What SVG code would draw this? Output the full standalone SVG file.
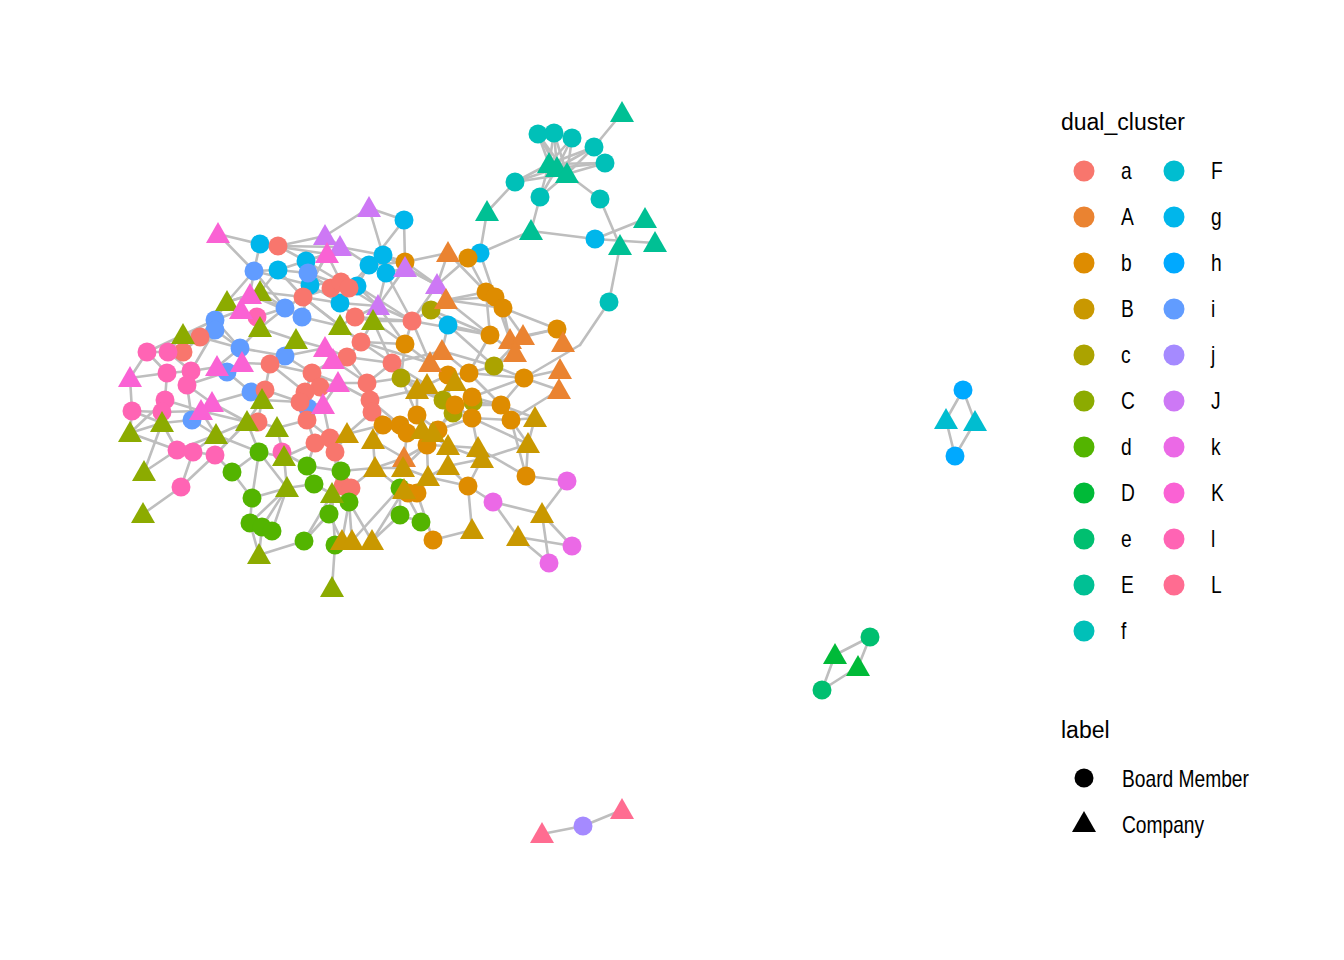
<svg xmlns="http://www.w3.org/2000/svg" xmlns:xlink="http://www.w3.org/1999/xlink" width="1344" height="960" viewBox="0 0 1344 960">
<style>
.e line{stroke:#BEBEBE;stroke-width:2.6;stroke-linecap:round}
.a{fill:#F8766D}.A{fill:#EA8331}.b{fill:#DE8C00}.B{fill:#C99800}.c{fill:#ABA300}.C{fill:#8CAB00}
.d{fill:#53B400}.D{fill:#00BA38}.e1{fill:#00BF70}.E{fill:#00C094}.f{fill:#00C0B8}.F{fill:#00BDD0}
.g{fill:#00B6EB}.h{fill:#00A9FF}.i{fill:#619CFF}.j{fill:#A58AFF}.J{fill:#CD78F5}.k{fill:#EB69E6}
.K{fill:#FA62D4}.l{fill:#FF64B4}.L{fill:#FF6C91}
text{font-family:"Liberation Sans",Arial,sans-serif;fill:#000}
.lt{font-size:23px}.ll{font-size:24px}
</style>
<defs>
<path id="t" d="M0,-12 L12,9 L-12,9Z"/>
</defs>
<rect width="1344" height="960" fill="#fff"/>
<g class="e" id="connectors">
<line x1="549" y1="164" x2="538" y2="134"/><line x1="549" y1="164" x2="554" y2="133"/><line x1="549" y1="164" x2="572" y2="138"/><line x1="549" y1="164" x2="594" y2="147"/><line x1="549" y1="164" x2="605" y2="163"/><line x1="549" y1="164" x2="515" y2="182"/><line x1="549" y1="164" x2="540" y2="197"/>
<line x1="557" y1="168" x2="538" y2="134"/><line x1="557" y1="168" x2="554" y2="133"/><line x1="557" y1="168" x2="572" y2="138"/><line x1="557" y1="168" x2="594" y2="147"/><line x1="557" y1="168" x2="605" y2="163"/><line x1="557" y1="168" x2="515" y2="182"/><line x1="557" y1="168" x2="540" y2="197"/>
<line x1="567" y1="174" x2="538" y2="134"/><line x1="567" y1="174" x2="554" y2="133"/><line x1="567" y1="174" x2="572" y2="138"/><line x1="567" y1="174" x2="594" y2="147"/><line x1="567" y1="174" x2="605" y2="163"/><line x1="567" y1="174" x2="515" y2="182"/><line x1="567" y1="174" x2="540" y2="197"/><line x1="567" y1="174" x2="600" y2="199"/>
<line x1="622" y1="113" x2="594" y2="147"/><line x1="515" y1="182" x2="487" y2="212"/><line x1="540" y1="197" x2="531" y2="231"/><line x1="600" y1="199" x2="620" y2="246"/>
<line x1="487" y1="212" x2="480" y2="253"/><line x1="480" y1="253" x2="531" y2="231"/><line x1="531" y1="231" x2="595" y2="239"/><line x1="595" y1="239" x2="645" y2="219"/><line x1="595" y1="239" x2="655" y2="243"/><line x1="620" y1="246" x2="609" y2="302"/><line x1="609" y1="302" x2="580" y2="345"/><line x1="580" y1="345" x2="524" y2="378"/>
<line x1="218" y1="234" x2="254" y2="271"/><line x1="260" y1="244" x2="254" y2="271"/><line x1="260" y1="244" x2="278" y2="246"/><line x1="278" y1="246" x2="325" y2="236"/><line x1="278" y1="246" x2="306" y2="261"/><line x1="325" y1="236" x2="340" y2="247"/><line x1="325" y1="236" x2="369" y2="265"/><line x1="340" y1="247" x2="383" y2="255"/><line x1="327" y1="254" x2="310" y2="285"/><line x1="327" y1="254" x2="306" y2="261"/><line x1="327" y1="254" x2="341" y2="282"/><line x1="327" y1="254" x2="278" y2="270"/><line x1="327" y1="254" x2="303" y2="297"/>
<line x1="369" y1="208" x2="404" y2="220"/><line x1="369" y1="208" x2="383" y2="255"/><line x1="383" y1="255" x2="405" y2="262"/><line x1="386" y1="273" x2="405" y2="268"/><line x1="369" y1="265" x2="357" y2="286"/><line x1="369" y1="265" x2="349" y2="288"/><line x1="254" y1="271" x2="278" y2="270"/><line x1="254" y1="271" x2="250" y2="295"/><line x1="254" y1="271" x2="227" y2="302"/><line x1="278" y1="270" x2="303" y2="297"/><line x1="278" y1="270" x2="260" y2="292"/><line x1="306" y1="261" x2="310" y2="285"/><line x1="308" y1="273" x2="331" y2="288"/><line x1="310" y1="285" x2="340" y2="303"/><line x1="341" y1="282" x2="357" y2="286"/><line x1="331" y1="288" x2="340" y2="303"/><line x1="349" y1="288" x2="378" y2="306"/><line x1="357" y1="286" x2="378" y2="306"/><line x1="386" y1="273" x2="378" y2="306"/><line x1="405" y1="268" x2="378" y2="306"/><line x1="405" y1="268" x2="437" y2="285"/><line x1="404" y1="220" x2="405" y2="262"/><line x1="405" y1="262" x2="437" y2="285"/><line x1="448" y1="253" x2="437" y2="285"/><line x1="468" y1="258" x2="437" y2="285"/><line x1="437" y1="285" x2="446" y2="300"/><line x1="437" y1="285" x2="412" y2="321"/><line x1="446" y1="300" x2="486" y2="292"/><line x1="446" y1="300" x2="495" y2="297"/><line x1="446" y1="300" x2="503" y2="308"/><line x1="446" y1="300" x2="490" y2="335"/><line x1="431" y1="310" x2="412" y2="321"/><line x1="431" y1="310" x2="448" y2="325"/><line x1="412" y1="321" x2="378" y2="306"/><line x1="412" y1="321" x2="373" y2="321"/><line x1="448" y1="325" x2="442" y2="351"/><line x1="405" y1="344" x2="412" y2="321"/><line x1="503" y1="308" x2="523" y2="336"/><line x1="503" y1="308" x2="510" y2="340"/><line x1="495" y1="297" x2="510" y2="340"/><line x1="486" y1="292" x2="490" y2="335"/><line x1="557" y1="329" x2="510" y2="340"/><line x1="557" y1="329" x2="523" y2="336"/><line x1="557" y1="329" x2="563" y2="343"/><line x1="523" y1="336" x2="494" y2="366"/><line x1="515" y1="353" x2="494" y2="366"/><line x1="494" y1="366" x2="469" y2="373"/><line x1="524" y1="378" x2="560" y2="370"/><line x1="524" y1="378" x2="559" y2="390"/><line x1="511" y1="420" x2="559" y2="390"/><line x1="501" y1="405" x2="535" y2="418"/><line x1="501" y1="405" x2="524" y2="378"/><line x1="472" y1="397" x2="501" y2="405"/><line x1="511" y1="420" x2="535" y2="418"/><line x1="535" y1="418" x2="528" y2="444"/><line x1="528" y1="444" x2="526" y2="476"/><line x1="526" y1="476" x2="567" y2="481"/><line x1="526" y1="476" x2="478" y2="448"/><line x1="526" y1="476" x2="511" y2="420"/><line x1="468" y1="486" x2="493" y2="502"/><line x1="468" y1="486" x2="472" y2="530"/><line x1="468" y1="486" x2="448" y2="466"/><line x1="433" y1="540" x2="472" y2="530"/><line x1="433" y1="540" x2="417" y2="493"/><line x1="493" y1="502" x2="542" y2="514"/><line x1="493" y1="502" x2="518" y2="537"/><line x1="542" y1="514" x2="567" y2="481"/><line x1="542" y1="514" x2="572" y2="546"/><line x1="542" y1="514" x2="549" y2="563"/><line x1="518" y1="537" x2="572" y2="546"/><line x1="518" y1="537" x2="549" y2="563"/><line x1="528" y1="444" x2="482" y2="459"/><line x1="448" y1="446" x2="482" y2="459"/>
<line x1="200" y1="337" x2="215" y2="320"/><line x1="200" y1="337" x2="183" y2="352"/><line x1="183" y1="335" x2="215" y2="330"/><line x1="183" y1="335" x2="147" y2="352"/><line x1="147" y1="352" x2="168" y2="352"/><line x1="147" y1="352" x2="130" y2="378"/><line x1="130" y1="378" x2="132" y2="411"/><line x1="130" y1="378" x2="167" y2="373"/><line x1="168" y1="352" x2="191" y2="371"/><line x1="167" y1="373" x2="191" y2="371"/><line x1="167" y1="373" x2="165" y2="400"/><line x1="191" y1="371" x2="217" y2="367"/><line x1="187" y1="385" x2="227" y2="372"/><line x1="187" y1="385" x2="212" y2="403"/><line x1="165" y1="400" x2="162" y2="412"/><line x1="162" y1="412" x2="132" y2="411"/><line x1="132" y1="411" x2="130" y2="433"/><line x1="162" y1="423" x2="192" y2="420"/><line x1="162" y1="412" x2="201" y2="411"/><line x1="192" y1="420" x2="212" y2="403"/><line x1="192" y1="420" x2="216" y2="435"/><line x1="201" y1="411" x2="247" y2="422"/><line x1="212" y1="403" x2="251" y2="392"/><line x1="216" y1="435" x2="177" y2="450"/><line x1="216" y1="435" x2="193" y2="452"/><line x1="215" y1="455" x2="247" y2="422"/><line x1="177" y1="450" x2="144" y2="472"/><line x1="193" y1="452" x2="181" y2="487"/><line x1="181" y1="487" x2="143" y2="514"/><line x1="181" y1="487" x2="215" y2="455"/><line x1="217" y1="367" x2="240" y2="348"/><line x1="242" y1="363" x2="240" y2="348"/><line x1="242" y1="363" x2="270" y2="364"/><line x1="240" y1="348" x2="260" y2="328"/><line x1="227" y1="372" x2="251" y2="392"/><line x1="251" y1="392" x2="265" y2="390"/><line x1="265" y1="390" x2="262" y2="400"/><line x1="262" y1="400" x2="247" y2="422"/><line x1="262" y1="400" x2="300" y2="402"/><line x1="227" y1="302" x2="215" y2="320"/><line x1="241" y1="310" x2="215" y2="320"/><line x1="250" y1="295" x2="285" y2="308"/><line x1="260" y1="292" x2="285" y2="308"/><line x1="241" y1="310" x2="257" y2="317"/><line x1="257" y1="317" x2="285" y2="308"/><line x1="260" y1="328" x2="296" y2="340"/><line x1="260" y1="328" x2="285" y2="308"/><line x1="285" y1="308" x2="302" y2="317"/><line x1="302" y1="317" x2="340" y2="326"/><line x1="296" y1="340" x2="325" y2="348"/><line x1="296" y1="340" x2="285" y2="356"/><line x1="285" y1="356" x2="270" y2="364"/><line x1="285" y1="356" x2="312" y2="373"/><line x1="270" y1="364" x2="265" y2="390"/><line x1="340" y1="326" x2="361" y2="342"/><line x1="340" y1="326" x2="355" y2="317"/><line x1="355" y1="317" x2="373" y2="321"/><line x1="373" y1="321" x2="392" y2="363"/><line x1="361" y1="342" x2="347" y2="357"/><line x1="325" y1="348" x2="347" y2="357"/><line x1="333" y1="360" x2="312" y2="373"/><line x1="333" y1="360" x2="367" y2="383"/><line x1="347" y1="357" x2="367" y2="383"/><line x1="392" y1="363" x2="401" y2="378"/><line x1="392" y1="363" x2="367" y2="383"/><line x1="312" y1="373" x2="320" y2="387"/><line x1="320" y1="387" x2="338" y2="383"/><line x1="305" y1="392" x2="308" y2="408"/><line x1="300" y1="402" x2="323" y2="405"/><line x1="308" y1="408" x2="323" y2="405"/><line x1="323" y1="405" x2="307" y2="420"/><line x1="338" y1="383" x2="370" y2="400"/><line x1="367" y1="383" x2="401" y2="378"/><line x1="370" y1="400" x2="372" y2="412"/><line x1="372" y1="412" x2="383" y2="425"/><line x1="372" y1="412" x2="347" y2="434"/><line x1="307" y1="420" x2="277" y2="428"/><line x1="307" y1="420" x2="315" y2="443"/><line x1="277" y1="428" x2="258" y2="422"/><line x1="277" y1="428" x2="284" y2="457"/><line x1="258" y1="422" x2="247" y2="422"/><line x1="284" y1="457" x2="259" y2="452"/><line x1="282" y1="452" x2="307" y2="466"/><line x1="259" y1="452" x2="232" y2="472"/><line x1="232" y1="472" x2="215" y2="455"/><line x1="259" y1="452" x2="252" y2="498"/><line x1="284" y1="457" x2="287" y2="488"/><line x1="287" y1="488" x2="252" y2="498"/><line x1="287" y1="488" x2="250" y2="523"/><line x1="287" y1="488" x2="262" y2="527"/><line x1="287" y1="488" x2="272" y2="531"/><line x1="287" y1="488" x2="314" y2="484"/><line x1="307" y1="466" x2="341" y2="471"/><line x1="314" y1="484" x2="332" y2="494"/><line x1="332" y1="494" x2="341" y2="471"/><line x1="332" y1="494" x2="329" y2="514"/><line x1="332" y1="494" x2="349" y2="502"/><line x1="332" y1="494" x2="304" y2="541"/><line x1="332" y1="494" x2="335" y2="545"/><line x1="259" y1="555" x2="250" y2="523"/><line x1="259" y1="555" x2="262" y2="527"/><line x1="259" y1="555" x2="304" y2="541"/><line x1="335" y1="545" x2="332" y2="588"/><line x1="349" y1="502" x2="342" y2="541"/><line x1="349" y1="502" x2="352" y2="541"/><line x1="349" y1="502" x2="372" y2="541"/><line x1="372" y1="541" x2="400" y2="515"/><line x1="400" y1="515" x2="421" y2="522"/><line x1="400" y1="488" x2="400" y2="515"/><line x1="404" y1="490" x2="421" y2="522"/><line x1="315" y1="443" x2="330" y2="438"/><line x1="330" y1="438" x2="347" y2="434"/><line x1="335" y1="452" x2="347" y2="434"/><line x1="335" y1="452" x2="337" y2="485"/><line x1="337" y1="485" x2="350" y2="488"/><line x1="350" y1="488" x2="375" y2="468"/><line x1="375" y1="468" x2="373" y2="440"/><line x1="373" y1="440" x2="383" y2="425"/><line x1="383" y1="425" x2="407" y2="433"/><line x1="400" y1="425" x2="417" y2="415"/><line x1="417" y1="415" x2="417" y2="390"/><line x1="417" y1="390" x2="401" y2="378"/><line x1="427" y1="385" x2="448" y2="375"/><line x1="448" y1="375" x2="469" y2="373"/><line x1="455" y1="382" x2="469" y2="373"/><line x1="443" y1="400" x2="455" y2="405"/><line x1="453" y1="413" x2="472" y2="418"/><line x1="438" y1="430" x2="455" y2="405"/><line x1="427" y1="445" x2="448" y2="446"/><line x1="407" y1="433" x2="422" y2="430"/><line x1="403" y1="468" x2="428" y2="477"/><line x1="428" y1="477" x2="448" y2="466"/><line x1="404" y1="490" x2="417" y2="493"/><line x1="404" y1="458" x2="427" y2="445"/><line x1="430" y1="363" x2="442" y2="351"/><line x1="430" y1="363" x2="405" y2="344"/><line x1="442" y1="351" x2="469" y2="373"/><line x1="405" y1="344" x2="401" y2="378"/>
<line x1="355" y1="317" x2="412" y2="321"/><line x1="361" y1="342" x2="430" y2="363"/><line x1="392" y1="363" x2="442" y2="351"/><line x1="412" y1="321" x2="490" y2="335"/><line x1="303" y1="297" x2="361" y2="342"/><line x1="215" y1="320" x2="240" y2="348"/><line x1="215" y1="330" x2="240" y2="348"/><line x1="200" y1="337" x2="240" y2="348"/><line x1="227" y1="302" x2="250" y2="295"/><line x1="250" y1="295" x2="260" y2="292"/><line x1="241" y1="310" x2="260" y2="328"/><line x1="303" y1="297" x2="331" y2="288"/><line x1="303" y1="297" x2="340" y2="303"/><line x1="285" y1="308" x2="303" y2="297"/><line x1="302" y1="317" x2="310" y2="285"/><line x1="254" y1="271" x2="310" y2="285"/>
<line x1="401" y1="378" x2="443" y2="400"/><line x1="401" y1="378" x2="427" y2="385"/><line x1="417" y1="415" x2="438" y2="430"/><line x1="472" y1="418" x2="511" y2="420"/><line x1="469" y1="373" x2="524" y2="378"/><line x1="473" y1="402" x2="501" y2="405"/><line x1="455" y1="405" x2="472" y2="418"/><line x1="448" y1="446" x2="448" y2="466"/><line x1="478" y1="448" x2="472" y2="418"/><line x1="482" y1="459" x2="468" y2="486"/><line x1="427" y1="445" x2="428" y2="477"/><line x1="417" y1="493" x2="428" y2="477"/><line x1="372" y1="541" x2="404" y2="490"/><line x1="352" y1="541" x2="400" y2="488"/><line x1="375" y1="468" x2="403" y2="468"/><line x1="347" y1="434" x2="383" y2="425"/><line x1="373" y1="440" x2="404" y2="458"/><line x1="370" y1="400" x2="400" y2="425"/><line x1="338" y1="383" x2="323" y2="405"/><line x1="330" y1="438" x2="323" y2="405"/><line x1="341" y1="471" x2="375" y2="468"/><line x1="307" y1="466" x2="315" y2="443"/><line x1="247" y1="422" x2="259" y2="452"/><line x1="216" y1="435" x2="259" y2="452"/><line x1="162" y1="423" x2="177" y2="450"/><line x1="130" y1="433" x2="162" y2="423"/><line x1="130" y1="433" x2="165" y2="400"/><line x1="312" y1="373" x2="305" y2="392"/><line x1="270" y1="364" x2="312" y2="373"/><line x1="361" y1="342" x2="392" y2="363"/><line x1="412" y1="321" x2="430" y2="363"/>
<line x1="218" y1="234" x2="260" y2="244"/><line x1="260" y1="244" x2="327" y2="254"/><line x1="278" y1="246" x2="340" y2="247"/><line x1="306" y1="261" x2="341" y2="282"/><line x1="308" y1="273" x2="349" y2="288"/><line x1="278" y1="270" x2="308" y2="273"/><line x1="254" y1="271" x2="285" y2="308"/><line x1="227" y1="302" x2="260" y2="292"/><line x1="227" y1="302" x2="200" y2="337"/><line x1="183" y1="335" x2="200" y2="337"/><line x1="183" y1="335" x2="215" y2="320"/><line x1="250" y1="295" x2="302" y2="317"/><line x1="260" y1="292" x2="303" y2="297"/><line x1="310" y1="285" x2="341" y2="282"/><line x1="340" y1="303" x2="378" y2="306"/><line x1="340" y1="303" x2="355" y2="317"/><line x1="340" y1="326" x2="303" y2="297"/><line x1="355" y1="317" x2="378" y2="306"/><line x1="373" y1="321" x2="405" y2="344"/><line x1="361" y1="342" x2="405" y2="344"/><line x1="378" y1="306" x2="405" y2="344"/><line x1="386" y1="273" x2="412" y2="321"/><line x1="383" y1="255" x2="437" y2="285"/><line x1="369" y1="265" x2="405" y2="262"/><line x1="357" y1="286" x2="412" y2="321"/><line x1="405" y1="262" x2="448" y2="253"/><line x1="468" y1="258" x2="480" y2="253"/><line x1="468" y1="258" x2="486" y2="292"/><line x1="448" y1="253" x2="486" y2="292"/><line x1="480" y1="253" x2="495" y2="297"/><line x1="431" y1="310" x2="490" y2="335"/><line x1="448" y1="325" x2="490" y2="335"/><line x1="448" y1="325" x2="494" y2="366"/><line x1="490" y1="335" x2="515" y2="353"/><line x1="490" y1="335" x2="469" y2="373"/><line x1="503" y1="308" x2="557" y2="329"/><line x1="494" y1="366" x2="524" y2="378"/><line x1="469" y1="373" x2="501" y2="405"/><line x1="448" y1="375" x2="472" y2="397"/><line x1="430" y1="363" x2="448" y2="375"/><line x1="442" y1="351" x2="494" y2="366"/><line x1="401" y1="378" x2="417" y2="415"/><line x1="392" y1="363" x2="427" y2="385"/><line x1="367" y1="383" x2="383" y2="425"/><line x1="370" y1="400" x2="417" y2="390"/><line x1="372" y1="412" x2="400" y2="425"/><line x1="383" y1="425" x2="373" y2="440"/><line x1="407" y1="433" x2="403" y2="468"/><line x1="422" y1="430" x2="448" y2="446"/><line x1="433" y1="433" x2="453" y2="413"/><line x1="438" y1="430" x2="472" y2="418"/><line x1="455" y1="405" x2="501" y2="405"/><line x1="472" y1="418" x2="528" y2="444"/><line x1="511" y1="420" x2="528" y2="444"/><line x1="472" y1="397" x2="524" y2="378"/><line x1="443" y1="400" x2="417" y2="390"/><line x1="455" y1="382" x2="443" y2="400"/><line x1="427" y1="445" x2="403" y2="468"/><line x1="448" y1="466" x2="482" y2="459"/><line x1="478" y1="448" x2="448" y2="446"/><line x1="468" y1="486" x2="428" y2="477"/><line x1="428" y1="477" x2="417" y2="493"/><line x1="404" y1="458" x2="375" y2="468"/><line x1="375" y1="468" x2="400" y2="488"/><line x1="341" y1="471" x2="349" y2="502"/><line x1="350" y1="488" x2="349" y2="502"/><line x1="337" y1="485" x2="332" y2="494"/><line x1="314" y1="484" x2="307" y2="466"/><line x1="259" y1="452" x2="287" y2="488"/><line x1="232" y1="472" x2="252" y2="498"/><line x1="252" y1="498" x2="250" y2="523"/><line x1="304" y1="541" x2="329" y2="514"/><line x1="329" y1="514" x2="342" y2="541"/><line x1="315" y1="443" x2="284" y2="457"/><line x1="330" y1="438" x2="341" y2="471"/><line x1="307" y1="420" x2="330" y2="438"/><line x1="305" y1="392" x2="320" y2="387"/><line x1="300" y1="402" x2="307" y2="420"/><line x1="265" y1="390" x2="300" y2="402"/><line x1="270" y1="364" x2="305" y2="392"/><line x1="258" y1="422" x2="262" y2="400"/><line x1="251" y1="392" x2="262" y2="400"/><line x1="227" y1="372" x2="242" y2="363"/><line x1="217" y1="367" x2="227" y2="372"/><line x1="191" y1="371" x2="215" y2="330"/><line x1="187" y1="385" x2="192" y2="420"/><line x1="165" y1="400" x2="201" y2="411"/><line x1="132" y1="411" x2="162" y2="423"/><line x1="177" y1="450" x2="193" y2="452"/><line x1="193" y1="452" x2="215" y2="455"/><line x1="144" y1="472" x2="162" y2="423"/><line x1="130" y1="433" x2="177" y2="450"/><line x1="168" y1="352" x2="183" y2="335"/><line x1="147" y1="352" x2="167" y2="373"/><line x1="212" y1="403" x2="247" y2="422"/><line x1="216" y1="435" x2="247" y2="422"/><line x1="201" y1="411" x2="216" y2="435"/><line x1="285" y1="356" x2="325" y2="348"/><line x1="312" y1="373" x2="338" y2="383"/><line x1="325" y1="348" x2="333" y2="360"/><line x1="347" y1="357" x2="392" y2="363"/><line x1="361" y1="342" x2="373" y2="321"/><line x1="367" y1="383" x2="370" y2="400"/><line x1="320" y1="387" x2="323" y2="405"/><line x1="308" y1="408" x2="307" y2="420"/><line x1="338" y1="383" x2="367" y2="383"/><line x1="240" y1="348" x2="285" y2="356"/><line x1="270" y1="364" x2="296" y2="340"/><line x1="404" y1="220" x2="369" y2="265"/><line x1="369" y1="208" x2="325" y2="236"/>
<line x1="963" y1="390" x2="946" y2="420"/><line x1="963" y1="390" x2="975" y2="422"/><line x1="946" y1="420" x2="955" y2="456"/><line x1="975" y1="422" x2="955" y2="456"/>
<line x1="870" y1="637" x2="835" y2="655"/><line x1="870" y1="637" x2="858" y2="667"/><line x1="835" y1="655" x2="822" y2="690"/><line x1="858" y1="667" x2="822" y2="690"/>
<line x1="542" y1="834" x2="583" y2="826"/><line x1="583" y1="826" x2="622" y2="810"/>
</g>
<g id="nodes">
<g id="f1" class="f"><circle cx="538" cy="134" r="9.5"/></g><g id="f2" class="f"><circle cx="554" cy="133" r="9.5"/></g><g id="f3" class="f"><circle cx="572" cy="138" r="9.5"/></g><g id="f4" class="f"><circle cx="594" cy="147" r="9.5"/></g><g id="f5" class="f"><circle cx="605" cy="163" r="9.5"/></g><g id="f6" class="f"><circle cx="515" cy="182" r="9.5"/></g><g id="f7" class="f"><circle cx="540" cy="197" r="9.5"/></g><g id="f8" class="f"><circle cx="600" cy="199" r="9.5"/></g><g id="f9" class="f"><circle cx="609" cy="302" r="9.5"/></g>
<g id="E1" class="E"><use href="#t" x="622" y="113"/></g><g id="E2" class="E"><use href="#t" x="549" y="164"/></g><g id="E3" class="E"><use href="#t" x="557" y="168"/></g><g id="E4" class="E"><use href="#t" x="567" y="174"/></g><g id="E5" class="E"><use href="#t" x="487" y="212"/></g><g id="E6" class="E"><use href="#t" x="531" y="231"/></g><g id="E7" class="E"><use href="#t" x="620" y="246"/></g><g id="E8" class="E"><use href="#t" x="655" y="243"/></g><g id="E9" class="E"><use href="#t" x="645" y="219"/></g>
<g id="g1" class="g"><circle cx="595" cy="239" r="9.5"/></g><g id="g2" class="g"><circle cx="480" cy="253" r="9.5"/></g><g id="g3" class="g"><circle cx="404" cy="220" r="9.5"/></g><g id="g4" class="g"><circle cx="448" cy="325" r="9.5"/></g><g id="g5" class="g"><circle cx="260" cy="244" r="9.5"/></g><g id="g6" class="g"><circle cx="278" cy="270" r="9.5"/></g><g id="g7" class="g"><circle cx="306" cy="261" r="9.5"/></g><g id="g8" class="g"><circle cx="310" cy="285" r="9.5"/></g><g id="g9" class="g"><circle cx="357" cy="286" r="9.5"/></g><g id="g10" class="g"><circle cx="369" cy="265" r="9.5"/></g><g id="g11" class="g"><circle cx="383" cy="255" r="9.5"/></g><g id="g12" class="g"><circle cx="386" cy="273" r="9.5"/></g><g id="g13" class="g"><circle cx="340" cy="303" r="9.5"/></g>
<g id="i1" class="i"><circle cx="254" cy="271" r="9.5"/></g><g id="i2" class="i"><circle cx="308" cy="273" r="9.5"/></g><g id="i3" class="i"><circle cx="285" cy="308" r="9.5"/></g><g id="i4" class="i"><circle cx="302" cy="317" r="9.5"/></g><g id="i5" class="i"><circle cx="215" cy="320" r="9.5"/></g><g id="i6" class="i"><circle cx="215" cy="330" r="9.5"/></g><g id="i7" class="i"><circle cx="240" cy="348" r="9.5"/></g><g id="i8" class="i"><circle cx="227" cy="372" r="9.5"/></g><g id="i9" class="i"><circle cx="251" cy="392" r="9.5"/></g><g id="i10" class="i"><circle cx="192" cy="420" r="9.5"/></g><g id="i11" class="i"><circle cx="285" cy="356" r="9.5"/></g><g id="i12" class="i"><circle cx="308" cy="408" r="9.5"/></g>
<g id="a1" class="a"><circle cx="278" cy="246" r="9.5"/></g><g id="a2" class="a"><circle cx="331" cy="288" r="9.5"/></g><g id="a3" class="a"><circle cx="341" cy="282" r="9.5"/></g><g id="a4" class="a"><circle cx="349" cy="288" r="9.5"/></g><g id="a5" class="a"><circle cx="303" cy="297" r="9.5"/></g><g id="a6" class="a"><circle cx="355" cy="317" r="9.5"/></g><g id="a7" class="a"><circle cx="412" cy="321" r="9.5"/></g><g id="a8" class="a"><circle cx="361" cy="342" r="9.5"/></g><g id="a9" class="a"><circle cx="200" cy="337" r="9.5"/></g><g id="a10" class="a"><circle cx="183" cy="352" r="9.5"/></g><g id="a11" class="a"><circle cx="270" cy="364" r="9.5"/></g><g id="a12" class="a"><circle cx="347" cy="357" r="9.5"/></g><g id="a13" class="a"><circle cx="392" cy="363" r="9.5"/></g><g id="a14" class="a"><circle cx="312" cy="373" r="9.5"/></g><g id="a15" class="a"><circle cx="320" cy="387" r="9.5"/></g><g id="a16" class="a"><circle cx="305" cy="392" r="9.5"/></g><g id="a17" class="a"><circle cx="300" cy="402" r="9.5"/></g><g id="a18" class="a"><circle cx="265" cy="390" r="9.5"/></g><g id="a19" class="a"><circle cx="367" cy="383" r="9.5"/></g><g id="a20" class="a"><circle cx="370" cy="400" r="9.5"/></g><g id="a21" class="a"><circle cx="372" cy="412" r="9.5"/></g><g id="a22" class="a"><circle cx="307" cy="420" r="9.5"/></g><g id="a23" class="a"><circle cx="258" cy="422" r="9.5"/></g><g id="a24" class="a"><circle cx="315" cy="443" r="9.5"/></g><g id="a25" class="a"><circle cx="330" cy="438" r="9.5"/></g><g id="a26" class="a"><circle cx="335" cy="452" r="9.5"/></g><g id="a27" class="a"><circle cx="343" cy="486" r="9.5"/></g><g id="a28" class="a"><circle cx="351" cy="488" r="9.5"/></g>
<g id="l1" class="l"><circle cx="147" cy="352" r="9.5"/></g><g id="l2" class="l"><circle cx="168" cy="352" r="9.5"/></g><g id="l3" class="l"><circle cx="167" cy="373" r="9.5"/></g><g id="l4" class="l"><circle cx="191" cy="371" r="9.5"/></g><g id="l5" class="l"><circle cx="187" cy="385" r="9.5"/></g><g id="l6" class="l"><circle cx="165" cy="400" r="9.5"/></g><g id="l7" class="l"><circle cx="162" cy="412" r="9.5"/></g><g id="l8" class="l"><circle cx="132" cy="411" r="9.5"/></g><g id="l9" class="l"><circle cx="177" cy="450" r="9.5"/></g><g id="l10" class="l"><circle cx="193" cy="452" r="9.5"/></g><g id="l11" class="l"><circle cx="215" cy="455" r="9.5"/></g><g id="l12" class="l"><circle cx="181" cy="487" r="9.5"/></g><g id="l13" class="l"><circle cx="282" cy="452" r="9.5"/></g><g id="l14" class="l"><circle cx="257" cy="317" r="9.5"/></g>
<g id="d1" class="d"><circle cx="259" cy="452" r="9.5"/></g><g id="d2" class="d"><circle cx="232" cy="472" r="9.5"/></g><g id="d3" class="d"><circle cx="307" cy="466" r="9.5"/></g><g id="d4" class="d"><circle cx="341" cy="471" r="9.5"/></g><g id="d5" class="d"><circle cx="314" cy="484" r="9.5"/></g><g id="d6" class="d"><circle cx="252" cy="498" r="9.5"/></g><g id="d7" class="d"><circle cx="250" cy="523" r="9.5"/></g><g id="d8" class="d"><circle cx="262" cy="527" r="9.5"/></g><g id="d9" class="d"><circle cx="272" cy="531" r="9.5"/></g><g id="d10" class="d"><circle cx="329" cy="514" r="9.5"/></g><g id="d11" class="d"><circle cx="349" cy="502" r="9.5"/></g><g id="d12" class="d"><circle cx="304" cy="541" r="9.5"/></g><g id="d13" class="d"><circle cx="335" cy="545" r="9.5"/></g><g id="d14" class="d"><circle cx="400" cy="488" r="9.5"/></g><g id="d15" class="d"><circle cx="400" cy="515" r="9.5"/></g><g id="d16" class="d"><circle cx="421" cy="522" r="9.5"/></g>
<g id="c1" class="c"><circle cx="431" cy="310" r="9.5"/></g><g id="c2" class="c"><circle cx="401" cy="378" r="9.5"/></g><g id="c3" class="c"><circle cx="494" cy="366" r="9.5"/></g><g id="c4" class="c"><circle cx="443" cy="400" r="9.5"/></g><g id="c5" class="c"><circle cx="453" cy="413" r="9.5"/></g><g id="c6" class="c"><circle cx="473" cy="402" r="9.5"/></g>
<g id="b1" class="b"><circle cx="468" cy="258" r="9.5"/></g><g id="b2" class="b"><circle cx="405" cy="262" r="9.5"/></g><g id="b3" class="b"><circle cx="486" cy="292" r="9.5"/></g><g id="b4" class="b"><circle cx="495" cy="297" r="9.5"/></g><g id="b5" class="b"><circle cx="503" cy="308" r="9.5"/></g><g id="b6" class="b"><circle cx="490" cy="335" r="9.5"/></g><g id="b7" class="b"><circle cx="405" cy="344" r="9.5"/></g><g id="b8" class="b"><circle cx="557" cy="329" r="9.5"/></g><g id="b9" class="b"><circle cx="524" cy="378" r="9.5"/></g><g id="b10" class="b"><circle cx="448" cy="375" r="9.5"/></g><g id="b11" class="b"><circle cx="469" cy="373" r="9.5"/></g><g id="b12" class="b"><circle cx="455" cy="405" r="9.5"/></g><g id="b13" class="b"><circle cx="472" cy="397" r="9.5"/></g><g id="b14" class="b"><circle cx="472" cy="418" r="9.5"/></g><g id="b15" class="b"><circle cx="501" cy="405" r="9.5"/></g><g id="b16" class="b"><circle cx="511" cy="420" r="9.5"/></g><g id="b17" class="b"><circle cx="417" cy="415" r="9.5"/></g><g id="b18" class="b"><circle cx="383" cy="425" r="9.5"/></g><g id="b19" class="b"><circle cx="400" cy="425" r="9.5"/></g><g id="b20" class="b"><circle cx="407" cy="433" r="9.5"/></g><g id="b21" class="b"><circle cx="438" cy="430" r="9.5"/></g><g id="b22" class="b"><circle cx="427" cy="445" r="9.5"/></g><g id="b23" class="b"><circle cx="526" cy="476" r="9.5"/></g><g id="b24" class="b"><circle cx="468" cy="486" r="9.5"/></g><g id="b25" class="b"><circle cx="433" cy="540" r="9.5"/></g><g id="b26" class="b"><circle cx="417" cy="493" r="9.5"/></g><g id="b27" class="b"><circle cx="408" cy="493" r="9.5"/></g>
<g id="k1" class="k"><circle cx="493" cy="502" r="9.5"/></g><g id="k2" class="k"><circle cx="567" cy="481" r="9.5"/></g><g id="k3" class="k"><circle cx="572" cy="546" r="9.5"/></g><g id="k4" class="k"><circle cx="549" cy="563" r="9.5"/></g>
<g id="J1" class="J"><use href="#t" x="369" y="208"/></g><g id="J2" class="J"><use href="#t" x="325" y="236"/></g><g id="J3" class="J"><use href="#t" x="340" y="247"/></g><g id="J4" class="J"><use href="#t" x="405" y="268"/></g><g id="J5" class="J"><use href="#t" x="437" y="285"/></g><g id="J6" class="J"><use href="#t" x="378" y="306"/></g>
<g id="A1" class="A"><use href="#t" x="448" y="253"/></g><g id="A2" class="A"><use href="#t" x="446" y="300"/></g><g id="A3" class="A"><use href="#t" x="510" y="340"/></g><g id="A4" class="A"><use href="#t" x="523" y="336"/></g><g id="A5" class="A"><use href="#t" x="563" y="343"/></g><g id="A6" class="A"><use href="#t" x="560" y="370"/></g><g id="A7" class="A"><use href="#t" x="559" y="390"/></g><g id="A8" class="A"><use href="#t" x="515" y="353"/></g><g id="A9" class="A"><use href="#t" x="442" y="351"/></g><g id="A10" class="A"><use href="#t" x="430" y="363"/></g><g id="A11" class="A"><use href="#t" x="404" y="458"/></g>
<g id="B1" class="B"><use href="#t" x="535" y="418"/></g><g id="B2" class="B"><use href="#t" x="528" y="444"/></g><g id="B3" class="B"><use href="#t" x="542" y="514"/></g><g id="B4" class="B"><use href="#t" x="518" y="537"/></g><g id="B5" class="B"><use href="#t" x="472" y="530"/></g><g id="B6" class="B"><use href="#t" x="482" y="459"/></g><g id="B7" class="B"><use href="#t" x="478" y="448"/></g><g id="B8" class="B"><use href="#t" x="448" y="466"/></g><g id="B9" class="B"><use href="#t" x="448" y="446"/></g><g id="B10" class="B"><use href="#t" x="428" y="477"/></g><g id="B11" class="B"><use href="#t" x="403" y="468"/></g><g id="B12" class="B"><use href="#t" x="404" y="490"/></g><g id="B13" class="B"><use href="#t" x="417" y="390"/></g><g id="B14" class="B"><use href="#t" x="427" y="385"/></g><g id="B15" class="B"><use href="#t" x="455" y="382"/></g><g id="B16" class="B"><use href="#t" x="422" y="430"/></g><g id="B17" class="B"><use href="#t" x="433" y="433"/></g><g id="B18" class="B"><use href="#t" x="347" y="434"/></g><g id="B19" class="B"><use href="#t" x="373" y="440"/></g><g id="B20" class="B"><use href="#t" x="375" y="468"/></g><g id="B21" class="B"><use href="#t" x="342" y="541"/></g><g id="B22" class="B"><use href="#t" x="352" y="541"/></g><g id="B23" class="B"><use href="#t" x="372" y="541"/></g>
<g id="C1" class="C"><use href="#t" x="227" y="302"/></g><g id="C2" class="C"><use href="#t" x="260" y="292"/></g><g id="C3" class="C"><use href="#t" x="183" y="335"/></g><g id="C4" class="C"><use href="#t" x="260" y="328"/></g><g id="C5" class="C"><use href="#t" x="296" y="340"/></g><g id="C6" class="C"><use href="#t" x="340" y="326"/></g><g id="C7" class="C"><use href="#t" x="373" y="321"/></g><g id="C8" class="C"><use href="#t" x="262" y="400"/></g><g id="C9" class="C"><use href="#t" x="277" y="428"/></g><g id="C10" class="C"><use href="#t" x="284" y="457"/></g><g id="C11" class="C"><use href="#t" x="130" y="433"/></g><g id="C12" class="C"><use href="#t" x="162" y="423"/></g><g id="C13" class="C"><use href="#t" x="216" y="435"/></g><g id="C14" class="C"><use href="#t" x="247" y="422"/></g><g id="C15" class="C"><use href="#t" x="144" y="472"/></g><g id="C16" class="C"><use href="#t" x="143" y="514"/></g><g id="C17" class="C"><use href="#t" x="259" y="555"/></g><g id="C18" class="C"><use href="#t" x="287" y="488"/></g><g id="C19" class="C"><use href="#t" x="332" y="494"/></g><g id="C20" class="C"><use href="#t" x="332" y="588"/></g>
<g id="K1" class="K"><use href="#t" x="218" y="234"/></g><g id="K2" class="K"><use href="#t" x="327" y="254"/></g><g id="K3" class="K"><use href="#t" x="250" y="295"/></g><g id="K4" class="K"><use href="#t" x="241" y="310"/></g><g id="K5" class="K"><use href="#t" x="130" y="378"/></g><g id="K6" class="K"><use href="#t" x="217" y="367"/></g><g id="K7" class="K"><use href="#t" x="242" y="363"/></g><g id="K8" class="K"><use href="#t" x="212" y="403"/></g><g id="K9" class="K"><use href="#t" x="201" y="411"/></g><g id="K10" class="K"><use href="#t" x="325" y="348"/></g><g id="K11" class="K"><use href="#t" x="333" y="360"/></g><g id="K12" class="K"><use href="#t" x="338" y="383"/></g><g id="K13" class="K"><use href="#t" x="323" y="405"/></g>
<g id="h1" class="h"><circle cx="963" cy="390" r="9.5"/></g><g id="h2" class="h"><circle cx="955" cy="456" r="9.5"/></g>
<g id="F1" class="F"><use href="#t" x="946" y="420"/></g><g id="F2" class="F"><use href="#t" x="975" y="422"/></g>
<g id="e1" class="e1"><circle cx="870" cy="637" r="9.5"/></g><g id="e2" class="e1"><circle cx="822" cy="690" r="9.5"/></g>
<g id="D1" class="D"><use href="#t" x="835" y="655"/></g><g id="D2" class="D"><use href="#t" x="858" y="667"/></g>
<g id="j1" class="j"><circle cx="583" cy="826" r="9.5"/></g>
<g id="L1" class="L"><use href="#t" x="542" y="834"/></g><g id="L2" class="L"><use href="#t" x="622" y="810"/></g>
</g>
<g id="legend">
<text class="lt" x="1061" y="130">dual_cluster</text>
<g class="a"><circle cx="1084" cy="171" r="10.5"/></g><text class="ll" transform="translate(1121,179) scale(0.8,1)">a</text>
<g class="A"><circle cx="1084" cy="217" r="10.5"/></g><text class="ll" transform="translate(1121,225) scale(0.8,1)">A</text>
<g class="b"><circle cx="1084" cy="263" r="10.5"/></g><text class="ll" transform="translate(1121,271) scale(0.8,1)">b</text>
<g class="B"><circle cx="1084" cy="309" r="10.5"/></g><text class="ll" transform="translate(1121,317) scale(0.8,1)">B</text>
<g class="c"><circle cx="1084" cy="355" r="10.5"/></g><text class="ll" transform="translate(1121,363) scale(0.8,1)">c</text>
<g class="C"><circle cx="1084" cy="401" r="10.5"/></g><text class="ll" transform="translate(1121,409) scale(0.8,1)">C</text>
<g class="d"><circle cx="1084" cy="447" r="10.5"/></g><text class="ll" transform="translate(1121,455) scale(0.8,1)">d</text>
<g class="D"><circle cx="1084" cy="493" r="10.5"/></g><text class="ll" transform="translate(1121,501) scale(0.8,1)">D</text>
<g class="e1"><circle cx="1084" cy="539" r="10.5"/></g><text class="ll" transform="translate(1121,547) scale(0.8,1)">e</text>
<g class="E"><circle cx="1084" cy="585" r="10.5"/></g><text class="ll" transform="translate(1121,593) scale(0.8,1)">E</text>
<g class="f"><circle cx="1084" cy="631" r="10.5"/></g><text class="ll" transform="translate(1121,639) scale(0.8,1)">f</text>
<g class="F"><circle cx="1174" cy="171" r="10.5"/></g><text class="ll" transform="translate(1211,179) scale(0.8,1)">F</text>
<g class="g"><circle cx="1174" cy="217" r="10.5"/></g><text class="ll" transform="translate(1211,225) scale(0.8,1)">g</text>
<g class="h"><circle cx="1174" cy="263" r="10.5"/></g><text class="ll" transform="translate(1211,271) scale(0.8,1)">h</text>
<g class="i"><circle cx="1174" cy="309" r="10.5"/></g><text class="ll" transform="translate(1211,317) scale(0.8,1)">i</text>
<g class="j"><circle cx="1174" cy="355" r="10.5"/></g><text class="ll" transform="translate(1211,363) scale(0.8,1)">j</text>
<g class="J"><circle cx="1174" cy="401" r="10.5"/></g><text class="ll" transform="translate(1211,409) scale(0.8,1)">J</text>
<g class="k"><circle cx="1174" cy="447" r="10.5"/></g><text class="ll" transform="translate(1211,455) scale(0.8,1)">k</text>
<g class="K"><circle cx="1174" cy="493" r="10.5"/></g><text class="ll" transform="translate(1211,501) scale(0.8,1)">K</text>
<g class="l"><circle cx="1174" cy="539" r="10.5"/></g><text class="ll" transform="translate(1211,547) scale(0.8,1)">l</text>
<g class="L"><circle cx="1174" cy="585" r="10.5"/></g><text class="ll" transform="translate(1211,593) scale(0.8,1)">L</text>
<text class="lt" x="1061" y="738">label</text>
<circle cx="1084" cy="778" r="9.5" fill="#000"/><text class="ll" transform="translate(1122,787) scale(0.8,1)">Board Member</text>
<use href="#t" x="1084" y="823" fill="#000"/><text class="ll" transform="translate(1122,833) scale(0.8,1)">Company</text>
</g>
</svg>
